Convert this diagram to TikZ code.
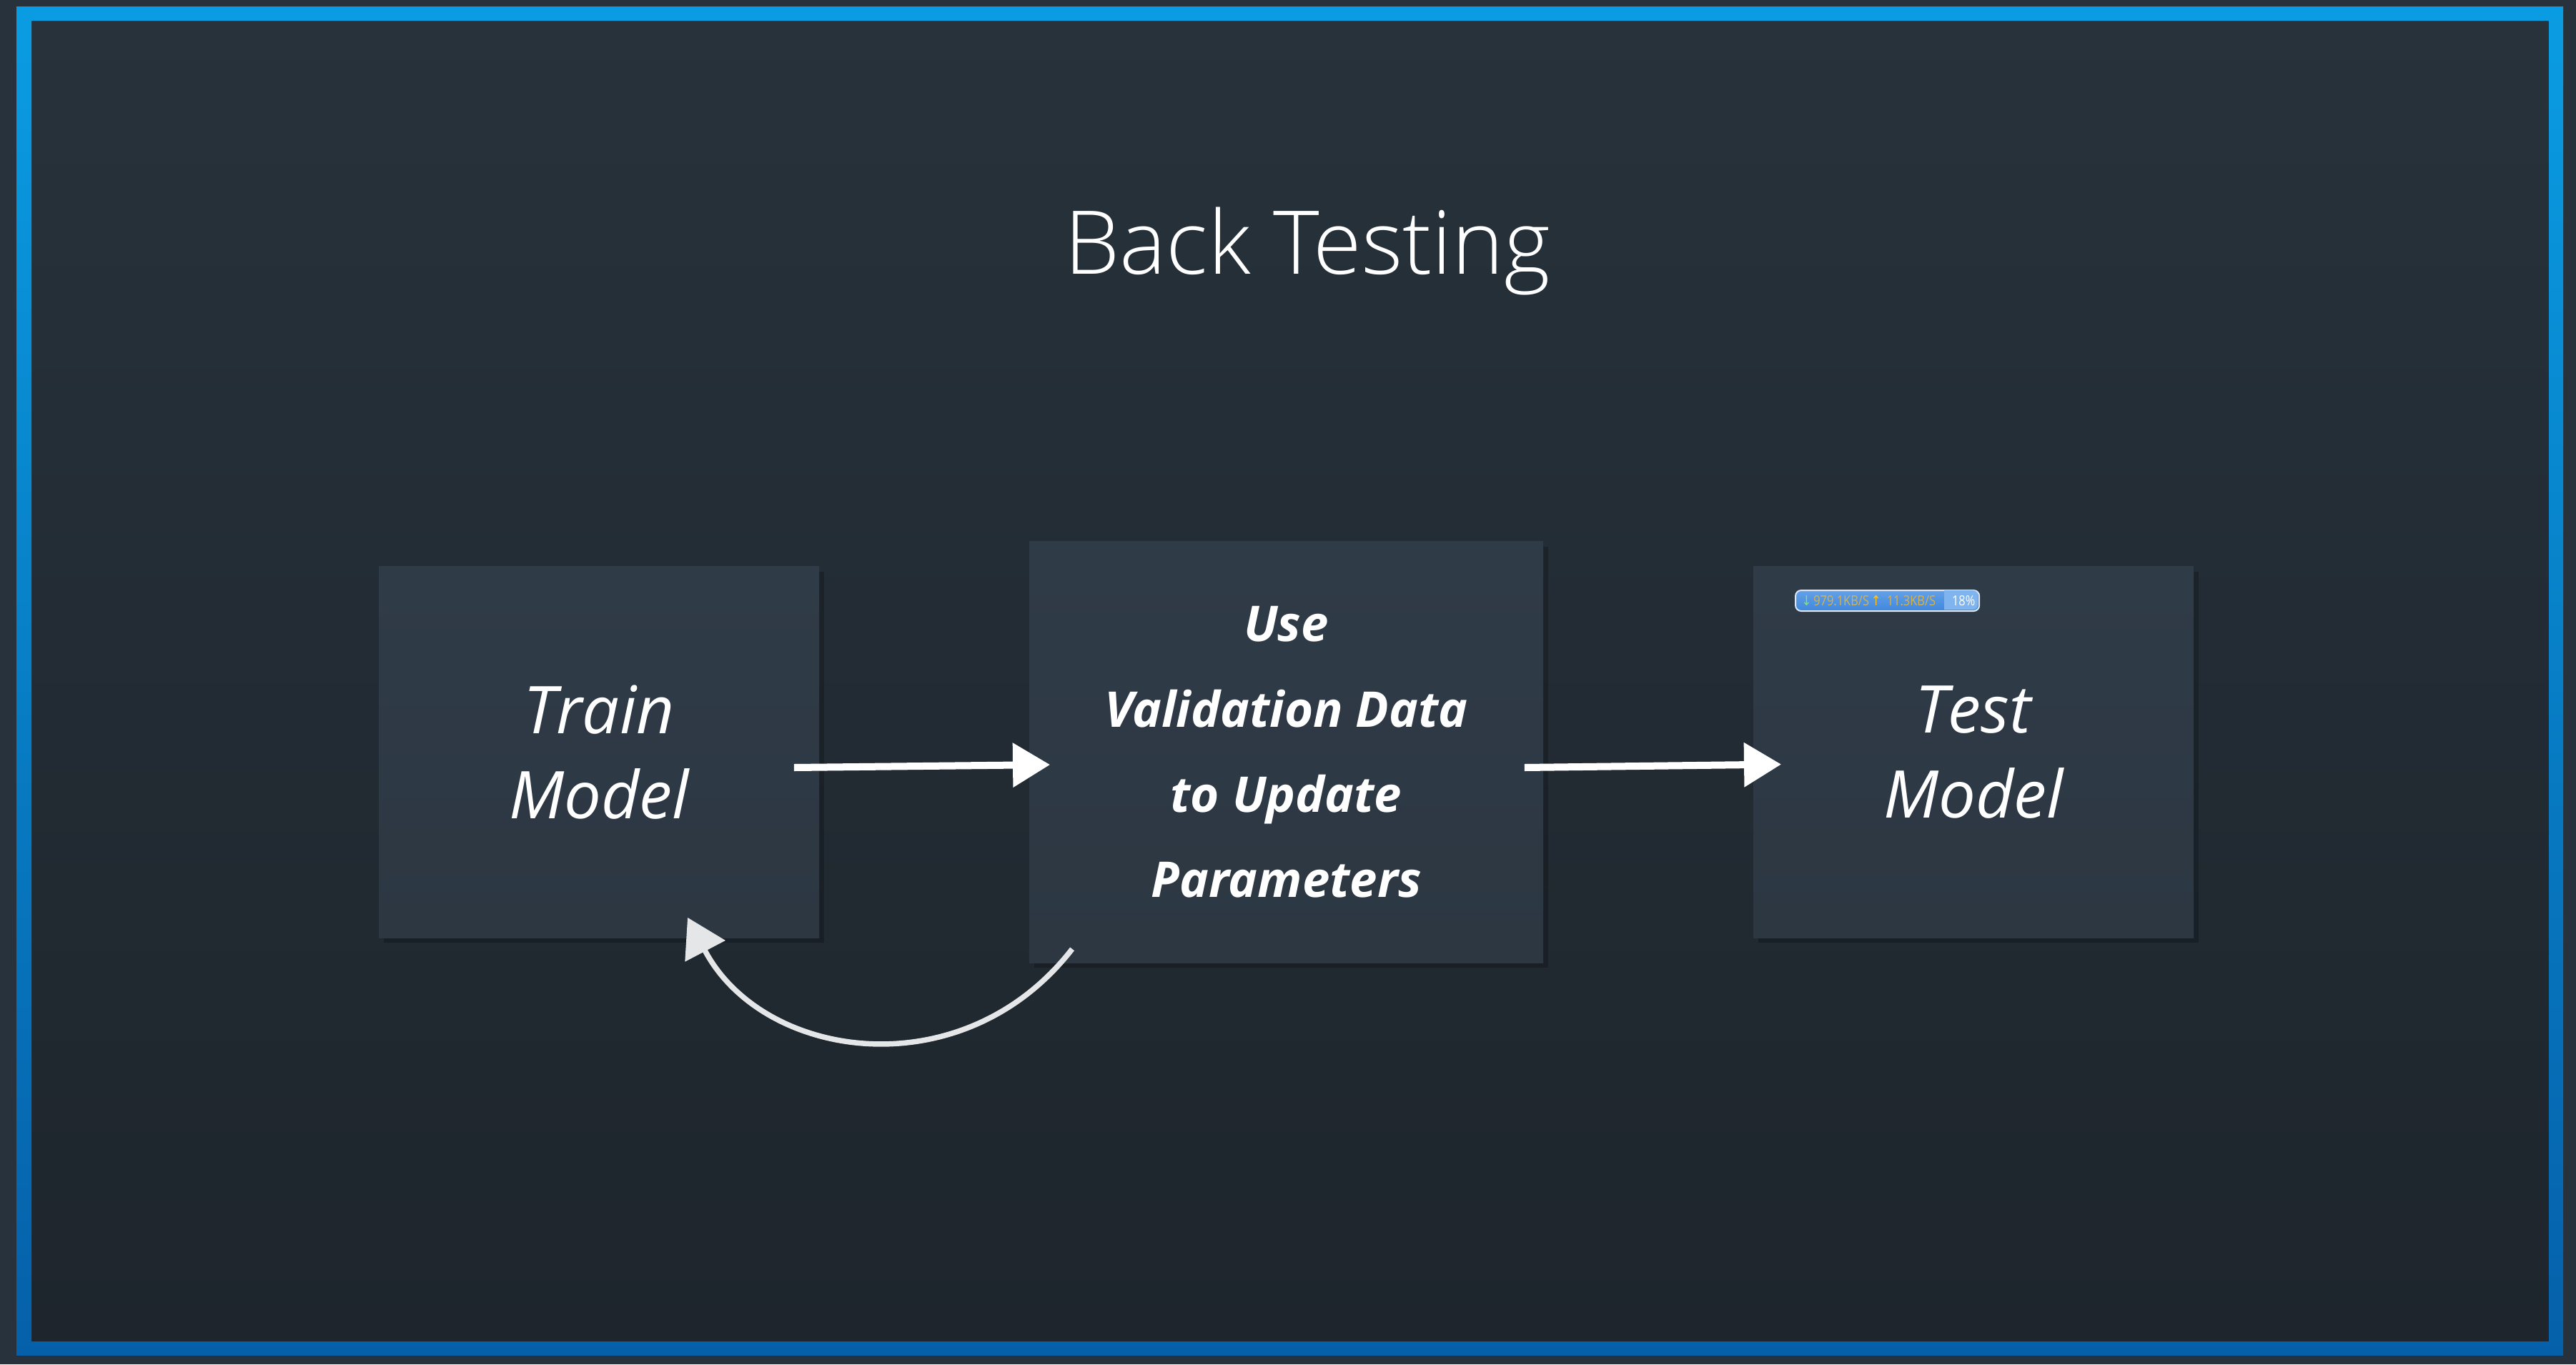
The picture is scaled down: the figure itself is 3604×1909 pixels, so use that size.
\documentclass[tikz,border=0pt]{standalone}
\usepackage{fontspec}
\setmainfont{Open Sans}
\newfontfamily\lightfont{Open Sans Light}
\newfontfamily\symbfont{DejaVu Sans}
\usetikzlibrary{positioning}
\usetikzlibrary{calc}
\usetikzlibrary{arrows.meta}
\usetikzlibrary{shadows}

\definecolor{outerbg}{HTML}{28323C}
\definecolor{slidetop}{HTML}{27323B}
\definecolor{slidebottom}{HTML}{1E252C}
\definecolor{frametop}{HTML}{0A9CE2}
\definecolor{framebottom}{HTML}{0560A9}
\definecolor{boxtop}{HTML}{2F3B47}
\definecolor{boxbottom}{HTML}{2C3742}
\definecolor{loopgrey}{HTML}{E4E6E8}
\definecolor{meterblue}{HTML}{3E88DF}
\definecolor{meterlight}{HTML}{7FB4EE}
\definecolor{metertext}{HTML}{D8B24A}
\definecolor{meterdown}{HTML}{8BE066}
\definecolor{meterup}{HTML}{FFC21A}

\begin{document}
\begin{tikzpicture}[x=0.01cm, y=-0.01cm,
    heading/.style={anchor=base, text=white, font=\lightfont\fontsize{35}{42}\selectfont},
    stage/.style={rectangle, inner sep=0pt, top color=boxtop, bottom color=boxbottom, text=white, align=center,
        minimum width=6.16cm, minimum height=5.19cm, font=\itshape\fontsize{26.2}{33.9}\selectfont,
        drop shadow={shadow xshift=0.07cm, shadow yshift=-0.07cm, opacity=0.22, fill=black}},
    widestage/.style={stage, minimum width=7.19cm, minimum height=5.89cm, font=\bfseries\itshape\fontsize{19.6}{33.9}\selectfont},
    flow/.style={draw=white, line width=0.1cm, -{Triangle[length=0.52cm, width=0.6cm]}},
    loopback/.style={draw=loopgrey, line width=0.075cm, -{Triangle[length=0.53cm, width=0.62cm]}},
    meterbox/.style={rectangle, rounded corners=0.08cm, draw=white!80!meterblue, line width=0.02cm, top color=meterblue!80!white, bottom color=meterblue,
        minimum width=2.57cm, minimum height=0.29cm, inner sep=0pt},
    metertxt/.style={inner sep=0pt, font=\fontsize{5.5}{6}\selectfont}]

% backdrop and frame
\fill[outerbg] (0,0) rectangle (3604,1909);
\useasboundingbox (0,0) rectangle (3604,1909);
\path[top color=slidetop, bottom color=slidebottom] (23,9) rectangle (3586,1897);
\path[even odd rule, top color=frametop, bottom color=framebottom] (23,9) rectangle (3586,1897) (44,29) rectangle (3566,1877);

\node[heading] (title) at (1829,383) {Back Testing};

\node[stage] (train) at (838,1052.5) {Train\\Model};
\node[widestage, right=2.92cm of train] (update) {Use\\Validation Data\\to Update\\Parameters};
\node[stage, right=2.92cm of update] (test) {Test\\Model};

% network meter overlay
\node[meterbox, anchor=north west] (meter) at (2511,825) {};
\fill[meterlight] (2720,826) [rounded corners=0.07cm] -- (2767,826) -- (2767,853) [sharp corners] -- (2720,853) -- cycle;
\node[metertxt, anchor=west] (speed) at ($(meter.west)+(9,0)$) {\scalebox{0.85}[1]{\textcolor{meterdown}{\symbfont↓}\,\textcolor{metertext}{979.1KB/S}\,\textcolor{meterup}{\symbfont↑}\enspace\textcolor{metertext}{11.3KB/S}}};
\node[metertxt, text=white] (load) at ($(meter.east)+(-23,0)$) {\scalebox{0.85}[1]{18\%}};

\draw[flow] ($(train.east)+(-36,21.5)$) -- ($(update.west)+(30,17.5)$);
\draw[flow] ($(update.east)+(-27,21.5)$) -- ($(test.west)+(40,17)$);

\coordinate (loopstart) at ($(update.south west)+(61,-20)$);
\coordinate (looptip) at ($(train.south)+(124,-29)$);
\draw[loopback] (loopstart) .. controls (1347,1525) and (1067,1484) .. (looptip);
\end{tikzpicture}
\end{document}
